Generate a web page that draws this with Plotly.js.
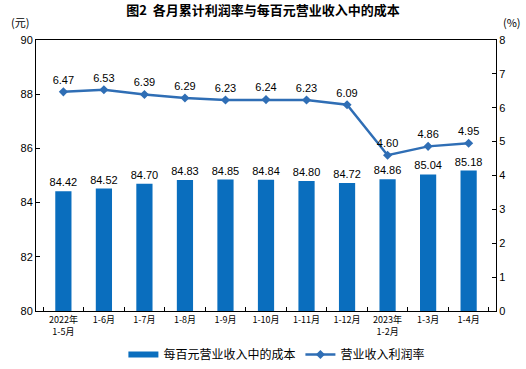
<!DOCTYPE html>
<html><head><meta charset="utf-8">
<script src="https://cdn.plot.ly/plotly-3.0.1.min.js"></script>
<style>html,body{margin:0;padding:0;background:#fff}</style>
</head><body><div id="chart" style="width:526px;height:369px"></div>
<script>
const categories = ["2022年<br>1-5月","1-6月","1-7月","1-8月","1-9月","1-10月","1-11月","1-12月","2023年<br>1-2月","1-3月","1-4月"];
const costPerHundred = [84.42,84.52,84.70,84.83,84.85,84.84,84.80,84.72,84.86,85.04,85.18];
const profitRate = [6.47,6.53,6.39,6.29,6.23,6.24,6.23,6.09,4.60,4.86,4.95];
const leftTicks = [80,82,84,86,88,90];
const rightTicks = [0,1,2,3,4,5,6,7,8];

const numFont = {family:"Liberation Sans, Arial, sans-serif", size:11, color:"#000"};
const cjk = "Noto Sans CJK SC, sans-serif";
const barColor = "#0A6EBE";

const traces = [
  {type:"bar", x:categories, y:costPerHundred, name:"每百元营业收入中的成本", showlegend:false,
   marker:{color:barColor}, width:0.4,
   text:costPerHundred.map(v=>v.toFixed(2)), textposition:"outside", constraintext:"none",
   textfont:numFont, cliponaxis:false},
  {type:"scatter", mode:"lines", x:[categories[0]], y:[null], name:"每百元营业收入中的成本",
   line:{color:barColor, width:6}, showlegend:true},
  {type:"scatter", mode:"lines+markers+text", x:categories, y:profitRate, yaxis:"y2",
   name:"营业收入利润率", line:{color:"#2F6EB5", width:2.5},
   marker:{symbol:"diamond", size:7, color:"#2F6EB5"},
   text:profitRate.map(v=>v.toFixed(2)), textposition:"top center",
   textfont:numFont, cliponaxis:false}
];

const layout = {
  width:526, height:369,
  margin:{l:36, r:30, t:40, b:58},
  paper_bgcolor:"#fff", plot_bgcolor:"#fff",
  title:{text:"<b>图2  各月累计利润率与每百元营业收入中的成本</b>", font:{family:cjk, size:13, color:"#000"},
         x:0.5, xanchor:"center", y:0.985, yanchor:"top"},
  showlegend:true,
  legend:{orientation:"h", x:0.19, xanchor:"left", yref:"container", y:0.0, yanchor:"bottom",
          font:{family:cjk, size:12, color:"#000"}, traceorder:"normal", itemwidth:30,
          bgcolor:"rgba(0,0,0,0)"},
  xaxis:{type:"category", showline:true, linecolor:"#000", linewidth:1, mirror:true,
         ticks:"inside", ticklen:4, tickson:"boundaries", tickcolor:"#000", tickangle:0,
         tickfont:{family:cjk, size:9, color:"#000"}, showgrid:false, zeroline:false},
  yaxis:{range:[80,90], tickvals:leftTicks, showline:true, linecolor:"#000", linewidth:1,
         ticks:"inside", ticklen:4, tickcolor:"#000", showgrid:false, zeroline:false,
         tickfont:{family:"Liberation Sans, Arial, sans-serif", size:11, color:"#000"}},
  yaxis2:{range:[0,8], tickvals:rightTicks, overlaying:"y", side:"right", showline:true,
          linecolor:"#000", linewidth:1, ticks:"inside", ticklen:4, tickcolor:"#000",
          showgrid:false, zeroline:false,
          tickfont:{family:"Liberation Sans, Arial, sans-serif", size:11, color:"#000"}},
  annotations:[
    {text:"(元)", xref:"paper", yref:"paper", x:-0.035, y:1.03, xanchor:"center", yanchor:"bottom",
     showarrow:false, font:{family:cjk, size:11, color:"#000"}},
    {text:"(%)", xref:"paper", yref:"paper", x:1.035, y:1.03, xanchor:"center", yanchor:"bottom",
     showarrow:false, font:{family:cjk, size:11, color:"#000"}}
  ]
};
Plotly.newPlot("chart", traces, layout, {displayModeBar:false, staticPlot:true});
</script></body></html>
